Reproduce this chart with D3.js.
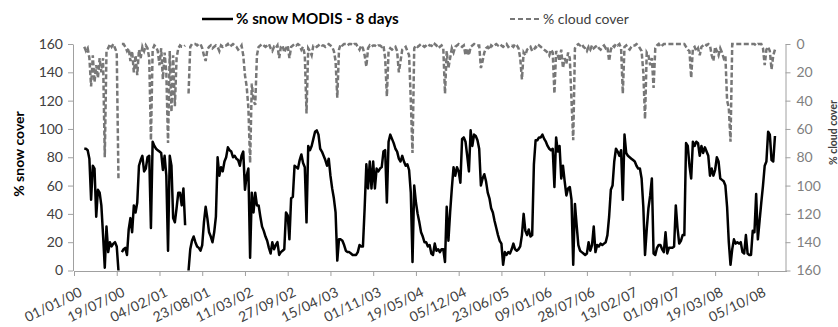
<!DOCTYPE html>
<html>
<head>
<meta charset="utf-8">
<script src="https://cdn.jsdelivr.net/npm/d3@7/dist/d3.min.js"></script>
<style>
  body { margin: 0; background: #fff; }
  svg text { font-family: Lato, "Open Sans", sans-serif; }
</style>
</head>
<body>
<svg id="chart" width="838" height="327"></svg>
<script>
// 8-day MODIS composites, first composite and step
const firstComposite = "18/02/00";
const compositeDays = 8;

// % snow cover per composite (null = no data)
const snowCover = [
  86,86,85,79,50,74,72,38,57,55,
  46,25,2,31,13,20,17,19,20,17,
  0,null,13,15,16,11,29,37,27,46,
  41,48,74,78,81,70,72,80,81,30,
  91,88,86,85,84,83,71,81,67,14,
  81,74,37,34,44,55,55,46,58,32,
  null,0,15,21,24,20,17,16,14,18,
  34,45,37,27,24,20,27,38,80,67,
  73,70,77,80,87,85,84,80,81,79,
  78,74,81,84,57,67,72,9,55,41,
  55,46,46,38,31,28,24,21,16,12,
  20,15,18,20,11,13,14,15,41,39,
  22,51,52,74,73,72,78,82,76,73,
  34,88,85,88,93,98,99,96,86,84,
  81,78,74,79,67,58,51,41,7,22,
  22,21,18,14,13,13,12,11,11,11,
  13,18,17,17,44,75,58,77,58,77,
  58,72,70,72,73,84,85,48,91,96,
  93,90,86,84,79,77,81,77,74,75,
  71,55,6,60,48,40,34,27,24,20,
  20,17,18,12,11,19,14,15,13,15,
  15,6,45,21,41,58,73,67,73,70,
  62,93,94,91,81,70,99,88,96,95,
  92,86,60,65,68,63,55,51,44,41,
  35,30,25,21,19,4,13,11,13,12,
  15,19,15,14,15,17,25,40,28,25,
  29,24,25,75,92,92,94,94,96,93,
  91,88,86,85,86,59,94,84,88,65,
  74,63,53,58,59,50,4,47,32,18,
  14,13,12,11,12,20,14,18,31,13,
  18,17,19,18,19,20,25,38,57,60,
  77,86,84,81,85,50,96,83,81,80,
  79,78,77,74,72,72,65,45,11,29,
  44,53,65,12,11,16,18,18,15,13,
  27,12,16,16,16,17,46,30,19,21,
  25,25,90,88,74,65,91,88,91,90,
  81,88,83,87,84,81,67,72,67,71,
  80,77,65,64,63,60,45,20,4,15,
  22,19,20,19,20,13,12,25,12,11,
  11,28,27,54,22,35,48,60,74,77,
  98,96,78,77,95
];

// % cloud cover per composite (null = no data)
const cloudCover = [
  2,5,3,10,30,8,27,15,24,10,
  20,10,80,5,3,0,2,0,3,6,
  95,null,0,0,2,5,3,12,5,20,
  8,22,4,10,2,5,1,3,10,68,
  4,1,2,5,15,3,25,6,20,70,
  5,48,8,44,10,3,1,2,2,1,
  null,35,2,0,0,0,1,0,0,3,
  8,12,4,2,1,3,2,1,2,5,
  1,2,1,1,0,2,1,0,1,2,
  4,3,1,8,22,30,45,84,28,40,
  43,8,2,1,0,1,2,1,0,3,
  5,2,3,1,10,2,1,6,3,1,
  10,2,1,0,1,0,1,4,2,8,
  49,3,5,8,1,1,2,1,0,1,
  1,2,1,0,1,2,5,12,38,4,
  0,1,0,0,1,0,0,1,0,0,
  2,4,1,3,8,16,3,1,2,1,
  1,2,1,1,2,1,10,37,5,3,
  4,3,2,5,20,12,4,3,2,5,
  8,40,77,3,1,2,1,0,1,2,
  1,0,1,1,2,0,1,3,2,1,
  3,35,5,17,10,3,6,2,1,0,
  1,2,1,8,3,8,2,1,0,1,
  1,1,17,12,6,3,2,4,1,2,
  1,0,1,0,1,2,1,0,2,1,
  1,2,0,1,3,10,25,6,8,4,
  3,2,5,4,2,3,1,2,3,4,
  5,6,8,4,6,35,5,8,12,4,
  17,10,14,6,10,40,68,3,1,0,
  1,0,2,3,5,2,4,1,3,2,
  1,3,4,2,1,3,2,12,4,1,
  2,0,1,0,3,35,2,1,3,4,
  2,1,1,0,1,3,5,20,53,6,
  8,15,10,31,3,1,0,2,1,0,
  0,0,0,0,0,0,0,0,0,0,
  0,0,2,4,5,24,3,2,5,3,
  8,2,1,0,1,0,1,8,12,2,
  5,8,3,6,10,8,40,45,69,0,
  0,0,0,0,0,0,0,0,0,0,
  0,0,0,1,0,0,0,3,15,4,
  2,5,18,8,4
];

// date axis labels (every 200 days)
const xTickLabels = [
  "01/01/00","19/07/00","04/02/01","23/08/01","11/03/02","27/09/02",
  "15/04/03","01/11/03","19/05/04","05/12/04","23/06/05","09/01/06",
  "28/07/06","13/02/07","01/09/07","19/03/08","05/10/08"
];
const xDomainLabels = ["01/01/00", "16/02/09"];
const yTicks = [0, 20, 40, 60, 80, 100, 120, 140, 160];

const legendSnow = "% snow MODIS - 8 days";
const legendCloud = "% cloud cover";
const titleLeft = "% snow cover";
const titleRight = "% cloud cover";

const parse = d3.utcParse("%d/%m/%y");
const start = parse(firstComposite);
const dates = snowCover.map((_, i) => d3.utcDay.offset(start, i * compositeDays));
const snowData = snowCover.map((v, i) => ({ date: dates[i], v }));
const cloudData = cloudCover.map((v, i) => ({ date: dates[i], v }));

const svg = d3.select("#chart");
svg.append("rect").attr("width", 838).attr("height", 327).attr("fill", "#fff");

const x = d3.scaleUtc().domain(xDomainLabels.map(parse)).range([74, 786.5]);
const yL = d3.scaleLinear().domain([0, 160]).range([270.5, 44]);
const yR = d3.scaleLinear().domain([0, 160]).range([44, 270.5]);

const axisColor = "#a0a0a0";

// left axis
const gL = svg.append("g").attr("transform", "translate(73,0)")
  .call(d3.axisLeft(yL).tickValues(yTicks).tickSize(5).tickSizeOuter(0).tickPadding(5));
gL.selectAll("text").attr("font-size", 14).attr("fill", "#404040");

// right axis
const gR = svg.append("g").attr("transform", "translate(785.5,0)")
  .call(d3.axisRight(yR).tickValues(yTicks).tickSize(5).tickSizeOuter(0).tickPadding(6));
gR.selectAll("text").attr("font-size", 14).attr("fill", "#7f7f7f");

// bottom axis
const gB = svg.append("g").attr("transform", "translate(0,271)")
  .call(d3.axisBottom(x).tickValues(xTickLabels.map(parse)).tickSize(5).tickSizeOuter(0)
    .tickFormat(d3.utcFormat("%d/%m/%y")));
gB.selectAll("text")
  .attr("font-size", 14).attr("fill", "#404040")
  .attr("text-anchor", "end")
  .attr("x", 0).attr("y", 0).attr("dy", 0)
  .attr("transform", "translate(8.5,24.5) rotate(-26)");

svg.selectAll(".domain, .tick line").attr("stroke", axisColor).attr("stroke-width", 1);

// series
const lineL = d3.line().defined(d => d.v != null).x(d => x(d.date)).y(d => yL(d.v));
const lineR = d3.line().defined(d => d.v != null).x(d => x(d.date)).y(d => yR(d.v));

svg.append("path").datum(snowData).attr("d", lineL)
  .attr("fill", "none").attr("stroke", "#000").attr("stroke-width", 2.5)
  .attr("stroke-linejoin", "round");
svg.append("path").datum(cloudData).attr("d", lineR)
  .attr("fill", "none").attr("stroke", "#777").attr("stroke-width", 2.5)
  .attr("stroke-dasharray", "5,2.5");

// axis titles
svg.append("text").attr("transform", "translate(24,154) rotate(-90)")
  .attr("text-anchor", "middle").attr("font-size", 14).attr("font-weight", "bold")
  .attr("fill", "#000").text(titleLeft);
svg.append("text").attr("transform", "translate(836.5,165) rotate(-90)")
  .attr("text-anchor", "start").attr("font-size", 10.5).attr("font-weight", "bold")
  .attr("fill", "#404040").text(titleRight);

// legend
svg.append("line").attr("x1", 202).attr("x2", 233).attr("y1", 19).attr("y2", 19)
  .attr("stroke", "#000").attr("stroke-width", 2.5);
svg.append("text").attr("x", 236).attr("y", 24).attr("font-size", 15.2)
  .attr("font-weight", "bold").attr("fill", "#000").text(legendSnow);
svg.append("line").attr("x1", 510).attr("x2", 542).attr("y1", 19).attr("y2", 19)
  .attr("stroke", "#777").attr("stroke-width", 2).attr("stroke-dasharray", "5,3");
svg.append("text").attr("x", 543).attr("y", 24).attr("font-size", 14)
  .attr("fill", "#404040").text(legendCloud);
</script>
</body>
</html>
